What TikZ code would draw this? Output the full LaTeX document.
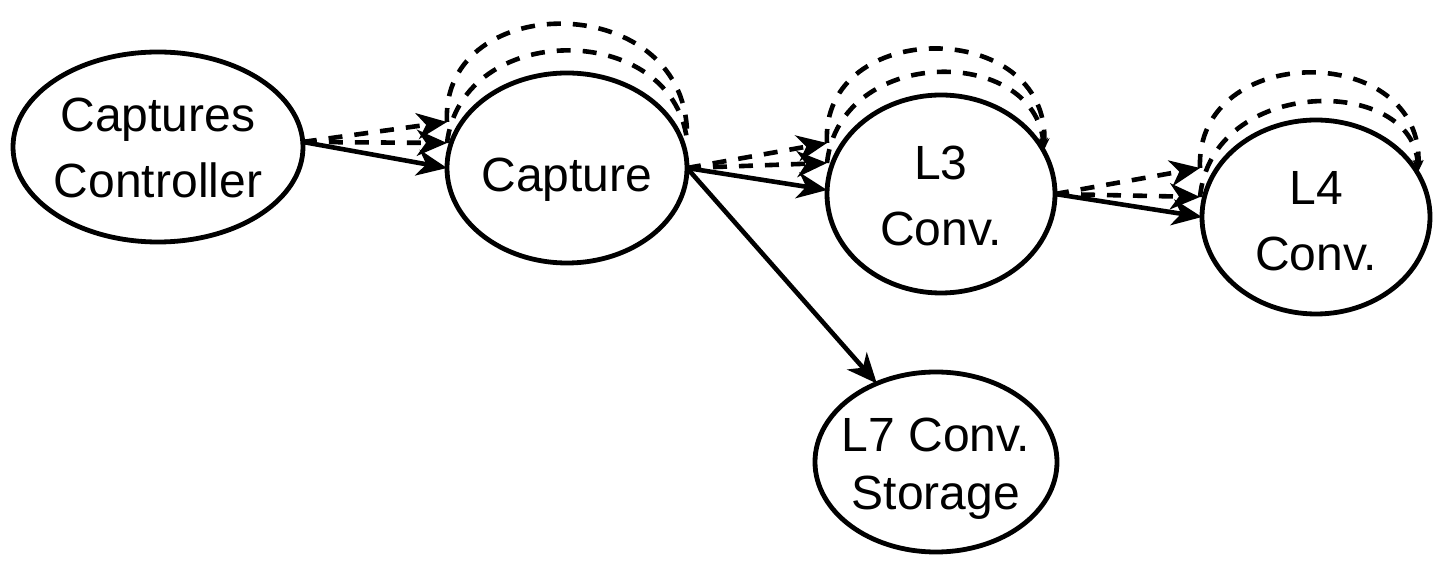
\documentclass[tikz,border=0pt]{standalone}
\usepackage{fontspec}
\setmainfont{Liberation Sans}
\usetikzlibrary{shapes.geometric,arrows.meta}
\begin{document}
\begin{tikzpicture}[x=0.5pt,y=-0.5pt,
  ell/.style={ellipse,draw,line width=2.4pt,inner sep=0pt,outer sep=0pt},
  lbl/.style={align=center,font=\fontsize{24}{33}\selectfont,inner sep=0pt},
  solidarr/.style={line width=2.3pt,-{Stealth[length=15pt,width=13pt,inset=4.5pt]}},
  dasharr/.style={line width=2.3pt,dash pattern=on 7pt off 6pt,-{Stealth[length=15pt,width=13pt,inset=4.5pt]}},
  loopline/.style={line width=2.3pt,dash pattern=on 7pt off 6pt},
  looptip/.style={loopline,-{Stealth[length=6pt,width=5pt]}},
]
\useasboundingbox (0,0) rectangle (1437,566);
% nodes
\node[ell,minimum width=145pt,minimum height=95pt] (cc) at (158,147) {};
\node[ell,minimum width=120pt,minimum height=95pt] (cap) at (567,168) {};
\node[ell,minimum width=114pt,minimum height=99pt] (l3) at (941,194) {};
\node[ell,minimum width=114pt,minimum height=97pt] (l4) at (1316,217) {};
\node[ell,minimum width=121pt,minimum height=90pt] (l7) at (936,462) {};
% labels
\node[lbl] (tcc) at ([yshift=-0.5pt]cc.center) {Captures\\Controller};
\node[lbl] (tcap) at ([yshift=-6pt]cap.center) {Capture};
\node[lbl] (tl3) at ([yshift=-1pt]l3.center) {L3\\Conv.};
\node[lbl] (tl4) at ([yshift=-2pt]l4.center) {L4\\Conv.};
\node[lbl,font=\fontsize{24}{29}\selectfont] (tl7) at ([yshift=-3.5pt]l7.center) {L7 Conv.\\Storage};
% loop coordinates
\coordinate (t2a) at (447,122);
\coordinate (t2b) at (447,143);
\coordinate (e2) at (687,140);
\coordinate (t3a) at (827,143);
\coordinate (t3b) at (827,163);
\coordinate (e3) at (1044,150);
\coordinate (t4a) at (1200,168);
\coordinate (t4b) at (1200,197);
\coordinate (e4) at (1418,172);
% edges from Captures Controller
\draw[solidarr] (cc.2) -- (cap.west);
\draw[dasharr] (cc.2) -- (t2a);
\draw[dasharr] (cc.2) -- (t2b);
\draw[loopline] (t2a) .. controls (440,-12) and (692,-12) .. (e2);
\draw[loopline] (t2b) .. controls (462,20) and (672,20) .. (e2);
% edges from Capture
\draw[solidarr] (cap.east) -- (l3.178);
\draw[dasharr] (cap.east) -- (t3a);
\draw[dasharr] (cap.east) -- (t3b);
\draw[solidarr] (cap.east) -- (l7.127);
\draw[looptip] (t3a) .. controls (820,17) and (1050,17) .. (e3);
\draw[looptip] (t3b) .. controls (840,45) and (1035,45) .. (e3);
% edges from L3
\draw[solidarr] (l3.east) -- (l4.west);
\draw[dasharr] (l3.east) -- (t4a);
\draw[dasharr] (l3.east) -- (t4b);
\draw[looptip] (t4a) .. controls (1195,41) and (1425,41) .. (e4);
\draw[looptip] (t4b) .. controls (1212,75) and (1415,75) .. (e4);
\end{tikzpicture}
\end{document}
